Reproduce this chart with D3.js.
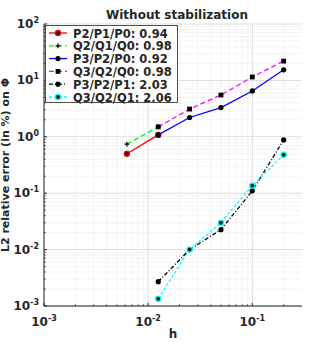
<!DOCTYPE html>
<html>
<head>
<meta charset="utf-8">
<script src="https://cdn.jsdelivr.net/npm/d3@7"></script>
<style>
body { margin: 0; background: #fff; }
text { font-family: "DejaVu Sans", sans-serif; font-weight: bold; fill: #262626; }
</style>
</head>
<body>
<script>
const width = 329;
const height = 346;

// data
const hCoarse = [0.0125, 0.025, 0.05, 0.1, 0.2];
const hFine = [0.00625, 0.0125];

const p2p1p0 = [0.5, 1.08];
const q2q1q0 = [0.74, 1.5];
const p3p2p0 = [1.08, 2.2, 3.3, 6.5, 15.4];
const q3q2q0 = [1.5, 3.1, 5.5, 11.5, 22];
const p3p2p1 = [0.0027, 0.01, 0.0226, 0.11, 0.88];
const q3q2q1 = [0.00135, 0.01, 0.030, 0.136, 0.48];

const legendLabels = ['P2/P1/P0: 0.94', 'Q2/Q1/Q0: 0.98', 'P3/P2/P0: 0.92',
                      'Q3/Q2/Q0: 0.98', 'P3/P2/P1: 2.03', 'Q3/Q2/Q1: 2.06'];

const xTicks = [1e-3, 1e-2, 1e-1];
const yTicks = [1e-3, 1e-2, 1e-1, 1e0, 1e1, 1e2];

const series = [
  {x: hFine, y: p2p1p0, color: '#ff0000', dash: null, marker: 'circle'},
  {x: hFine, y: q2q1q0, color: '#00ff00', dash: '5,3', marker: 'plus'},
  {x: hCoarse, y: p3p2p0, color: '#0000ff', dash: null, marker: 'dot'},
  {x: hCoarse, y: q3q2q0, color: '#ff00ff', dash: '5,3', marker: 'square'},
  {x: hCoarse, y: p3p2p1, color: '#000000', dash: '4,2,1,2', marker: 'dot'},
  {x: hCoarse, y: q3q2q1, color: '#00ffff', dash: '3,2', marker: 'circle'}
];

const margin = {left: 44, right: 27, top: 24, bottom: 40};

const x = d3.scaleLog().domain([1e-3, 0.3]).range([margin.left, width - margin.right]);
const y = d3.scaleLog().domain([1e-3, 1e2]).range([height - margin.bottom, margin.top]);

const svg = d3.select('body').append('svg')
  .attr('width', width)
  .attr('height', height);

const isMajor = (list, d) => list.some(t => Math.abs(t - d) < 1e-12);

// grid (minor + major)
const grid = svg.append('g');
const xMinor = [];
for (let e = -3; e <= -1; e++) for (let k = 1; k <= 9; k++) { const v = k * Math.pow(10, e); if (v <= 0.3) xMinor.push(v); }
const yMinor = [];
for (let e = -3; e <= 1; e++) for (let k = 1; k <= 9; k++) yMinor.push(k * Math.pow(10, e));
yMinor.push(100);

grid.selectAll('.gx').data(xMinor).enter().append('line')
  .attr('x1', d => x(d)).attr('x2', d => x(d))
  .attr('y1', y(1e-3)).attr('y2', y(1e2))
  .attr('stroke', d => isMajor(xTicks, d) ? '#dddddd' : '#eaeaea')
  .attr('stroke-dasharray', d => isMajor(xTicks, d) ? null : '1,1');

grid.selectAll('.gy').data(yMinor).enter().append('line')
  .attr('x1', x(1e-3)).attr('x2', x(0.3))
  .attr('y1', d => y(d)).attr('y2', d => y(d))
  .attr('stroke', d => isMajor(yTicks, d) ? '#dddddd' : '#eaeaea')
  .attr('stroke-dasharray', d => isMajor(yTicks, d) ? null : '1,1');

// axes
svg.append('line')
  .attr('x1', margin.left).attr('x2', margin.left)
  .attr('y1', y(1e-3)).attr('y2', y(1e2))
  .attr('stroke', '#262626');
svg.append('line')
  .attr('x1', margin.left).attr('x2', x(0.3))
  .attr('y1', y(1e-3)).attr('y2', y(1e-3))
  .attr('stroke', '#262626');

// tick marks
svg.selectAll('.xt').data(xMinor).enter().append('line')
  .attr('x1', d => x(d)).attr('x2', d => x(d))
  .attr('y1', y(1e-3)).attr('y2', d => y(1e-3) - (isMajor(xTicks, d) ? 3 : 1.5))
  .attr('stroke', '#262626');
svg.selectAll('.yt').data(yMinor).enter().append('line')
  .attr('x1', margin.left).attr('x2', d => margin.left + (isMajor(yTicks, d) ? 3 : 1.5))
  .attr('y1', d => y(d)).attr('y2', d => y(d))
  .attr('stroke', '#262626');

// tick labels
const xl = svg.selectAll('.xl').data(xTicks).enter().append('text')
  .attr('x', d => x(d)).attr('y', y(1e-3) + 20)
  .attr('text-anchor', 'middle').attr('font-size', 12);
xl.append('tspan').text('10');
xl.append('tspan').attr('dy', -5).attr('font-size', 8).text(d => Math.round(Math.log10(d)));

const yl = svg.selectAll('.yl').data(yTicks).enter().append('text')
  .attr('x', margin.left - 5).attr('y', d => y(d) + 4)
  .attr('text-anchor', 'end').attr('font-size', 12);
yl.append('tspan').text('10');
yl.append('tspan').attr('dy', -5).attr('font-size', 8).text(d => Math.round(Math.log10(d)));

// labels
svg.append('text').attr('x', 177).attr('y', 19).attr('text-anchor', 'middle')
  .attr('font-size', 12).attr('fill', '#000').text('Without stabilization');
svg.append('text').attr('x', (margin.left + x(0.3)) / 2).attr('y', 338).attr('text-anchor', 'middle')
  .attr('font-size', 12).text('h');
svg.append('text').attr('transform', 'translate(9,' + y(0.316) + ') rotate(-90)')
  .attr('text-anchor', 'middle').attr('font-size', 11).text('L2 relative error (in %) on Φ');

// markers
function drawMarker(g, type, color, cx, cy) {
  if (type === 'circle') {
    g.append('circle').attr('cx', cx).attr('cy', cy).attr('r', 2.6)
      .attr('fill', '#222').attr('stroke', color).attr('stroke-width', 1.2);
  } else if (type === 'dot') {
    g.append('circle').attr('cx', cx).attr('cy', cy).attr('r', 2.6).attr('fill', '#000');
  } else if (type === 'square') {
    g.append('rect').attr('x', cx - 2.4).attr('y', cy - 2.4).attr('width', 4.8).attr('height', 4.8).attr('fill', '#000');
  } else if (type === 'plus') {
    g.append('path').attr('d', `M${cx - 2.5},${cy}H${cx + 2.5}M${cx},${cy - 2.5}V${cy + 2.5}`)
      .attr('stroke', '#000').attr('stroke-width', 1.2);
  }
}

const line = d3.line().x(d => x(d[0])).y(d => y(d[1]));
series.forEach(s => {
  const pts = s.x.map((h, i) => [h, s.y[i]]);
  const g = svg.append('g');
  g.append('path').datum(pts).attr('d', line)
    .attr('fill', 'none').attr('stroke', s.color).attr('stroke-width', 1.3)
    .attr('stroke-dasharray', s.dash);
  pts.forEach(p => drawMarker(g, s.marker, s.color, x(p[0]), y(p[1])));
});

// legend
const lg = svg.append('g');
lg.append('rect').attr('x', 45.5).attr('y', 25.5).attr('width', 132).attr('height', 77)
  .attr('fill', '#fff').attr('stroke', '#262626').attr('stroke-width', 0.8);
series.forEach((s, i) => {
  const ly = 33 + i * 12.8;
  lg.append('line').attr('x1', 49).attr('x2', 67).attr('y1', ly).attr('y2', ly)
    .attr('stroke', s.color).attr('stroke-width', 1.3).attr('stroke-dasharray', s.dash);
  drawMarker(lg, s.marker, s.color, 58, ly);
  lg.append('text').attr('x', 73).attr('y', ly + 4.5).attr('font-size', 11.5)
    .attr('fill', '#000').text(legendLabels[i]);
});
</script>
</body>
</html>
